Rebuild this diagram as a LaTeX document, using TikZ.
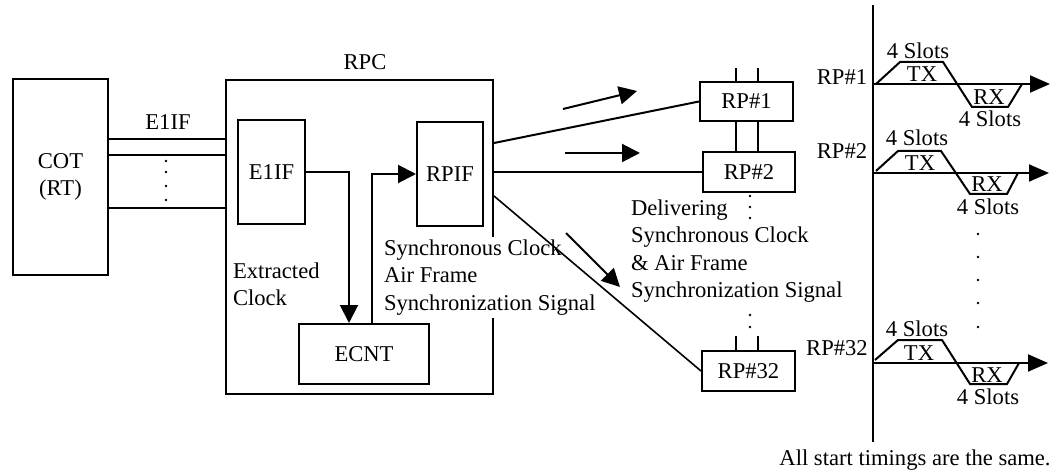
\documentclass[tikz,border=0pt]{standalone}
\usepackage{fontspec}
\setmainfont{Liberation Serif}
\usetikzlibrary{arrows.meta}
\begin{document}
\begin{tikzpicture}[x=0.5pt,y=-0.5pt,
  line width=1pt,
  every node/.style={font=\fontsize{11.3}{13.7}\selectfont, inner sep=0pt},
  box/.style={draw, line width=1pt, anchor=north west},
  arr/.style={-{Triangle[length=9pt,width=9pt]}},
  tarr/.style={-{Triangle[length=10pt,width=8.5pt]}},
  wtext/.style={fill=white, align=left, inner sep=1.5pt},
  dotmark/.style={fill, circle, inner sep=0pt, minimum size=1.3pt}
]
\useasboundingbox[fill=white] (0,0) rectangle (1061,476);

% ---------- boxes ----------
\node[box, minimum width=47.5pt, minimum height=98pt] (cot) at (12,78) {};
\node[align=center] (cotlbl) at (cot.center) {COT\\(RT)};
\node[box, minimum width=133.5pt, minimum height=157pt] (rpc) at (225,79) {};
\node (rpclbl) at (365,62) {RPC};
\node[box, minimum width=33.5pt, minimum height=52pt] (e1if) at (237,119) {};
\node (e1iflbl) at (e1if.center) {E1IF};
\node[box, minimum width=33pt, minimum height=52pt] (rpif) at (416,121) {};
\node (rpiflbl) at (rpif.center) {RPIF};
\node[box, minimum width=65pt, minimum height=30pt] (ecnt) at (298,323) {};
\node (ecntlbl) at (ecnt.center) {ECNT};
\node[box, minimum width=46.5pt, minimum height=19.5pt] (rp1) at (699,81) {};
\node (rp1lbl) at (rp1.center) {RP\#1};
\node[box, minimum width=46pt, minimum height=20pt] (rp2) at (702,151) {};
\node (rp2lbl) at (rp2.center) {RP\#2};
\node[box, minimum width=46.5pt, minimum height=20pt] (rp32) at (701,350) {};
\node (rp32lbl) at (rp32.center) {RP\#32};

% ---------- helper coordinates ----------
\coordinate (ya) at (0,139);
\coordinate (yb) at (0,155);
\coordinate (yc) at (0,208);
\coordinate (xa) at (349,0);
\coordinate (xb) at (372,0);
\coordinate (yr1) at (0,143);
\coordinate (yr32) at (0,196);
\coordinate (xl) at (736,0);
\coordinate (xr) at (758,0);

% ---------- E1IF trunk ----------
\draw (cot.east |- ya) -- (rpc.west |- ya);
\draw (cot.east |- yb) -- (rpc.west |- yb);
\draw (cot.east |- yc) -- (rpc.west |- yc);
\node (trunklbl) at (168,122) {E1IF};
\foreach \yy in {161,172,186,200} \node[dotmark] at (166,\yy) {};

% ---------- dots between RP#2 and RP#32 ----------
\foreach \yy in {196,207,218,315,327} \node[dotmark] at (750,\yy) {};

% ---------- texts ----------
\node[align=left, anchor=west] (extr) at (232,284) {Extracted\\Clock};
\node[wtext, anchor=west] (sync) at (380,277.5) {Synchronous Clock\\Air Frame\\Synchronization Signal};
\node[align=left, anchor=west] (deliv) at (630,251) {Delivering\\Synchronous Clock\\\& Air Frame\\Synchronization Signal};

% ---------- internal connectors ----------
\draw[arr] (e1if.east) -| (ecnt.north -| xa);
\draw[arr] (ecnt.north -| xb) |- (rpif.west);

% ---------- RPC to RPs ----------
\draw (rpc.east |- yr1) -- (rp1.west);
\draw (rp2.west -| rpc.east) -- (rp2.west);
\draw[line width=0.8pt] (rpc.east |- yr32) -- (rp32.west);
\draw[arr] (563,109) -- (637,91);
\draw[arr] (565,153) -- (640,153);
\draw[arr] (566,233) -- (620,287);

% ---------- RP links ----------
\draw (rp1.south -| xl) -- (rp2.north -| xl);
\draw (rp1.south -| xr) -- (rp2.north -| xr);
\draw (rp1.north -| xl) -- ++(0,-13);
\draw (rp1.north -| xr) -- ++(0,-13);
\draw (rp32.north -| xl) -- ++(0,-14);
\draw (rp32.north -| xr) -- ++(0,-14);

% ---------- timing chart ----------
\coordinate (axtop) at (873,5);
\coordinate (axbot) at (873,442);
\draw (axtop) -- (axbot);

% RP#1
\node (tl1) at (842,77) {RP\#1};
\coordinate (t1) at (873,84);
\coordinate (t1e) at (1050,84);
\draw[tarr] (t1) -- (t1e);
\draw (876,84) -- (900,62) -- (943,62) -- (972,107) -- (1008,107) -- (1022,84);
\node (s1a) at (918,51) {4 Slots};
\node (tx1) at (922,74) {TX};
\node (rx1) at (989,97) {RX};
\node (s1b) at (990,119) {4 Slots};

% RP#2
\node (tl2) at (842,151) {RP\#2};
\coordinate (t2) at (873,173);
\coordinate (t2e) at (1049,173);
\draw[tarr] (t2) -- (t2e);
\draw (876,171) -- (898,151) -- (941,151) -- (970,194) -- (1007,194) -- (1018,173);
\node (s2a) at (917,138) {4 Slots};
\node (tx2) at (920,163) {TX};
\node (rx2) at (987,184) {RX};
\node (s2b) at (988,207) {4 Slots};

% dots
\foreach \yy in {234,257,280,303,327} \node[dotmark] at (978,\yy) {};

% RP#32
\node (tl32) at (837,348) {RP\#32};
\coordinate (t3) at (873,363);
\coordinate (t3e) at (1048,363);
\draw[tarr] (t3) -- (t3e);
\draw (875,360) -- (898,340) -- (942,340) -- (970,384) -- (1007,384) -- (1019,363);
\node (s3a) at (917,329) {4 Slots};
\node (tx3) at (919,353) {TX};
\node (rx3) at (987,375) {RX};
\node (s3b) at (988,397) {4 Slots};

\node (note) at (915,460) {All start timings are the same.};
\end{tikzpicture}
\end{document}
